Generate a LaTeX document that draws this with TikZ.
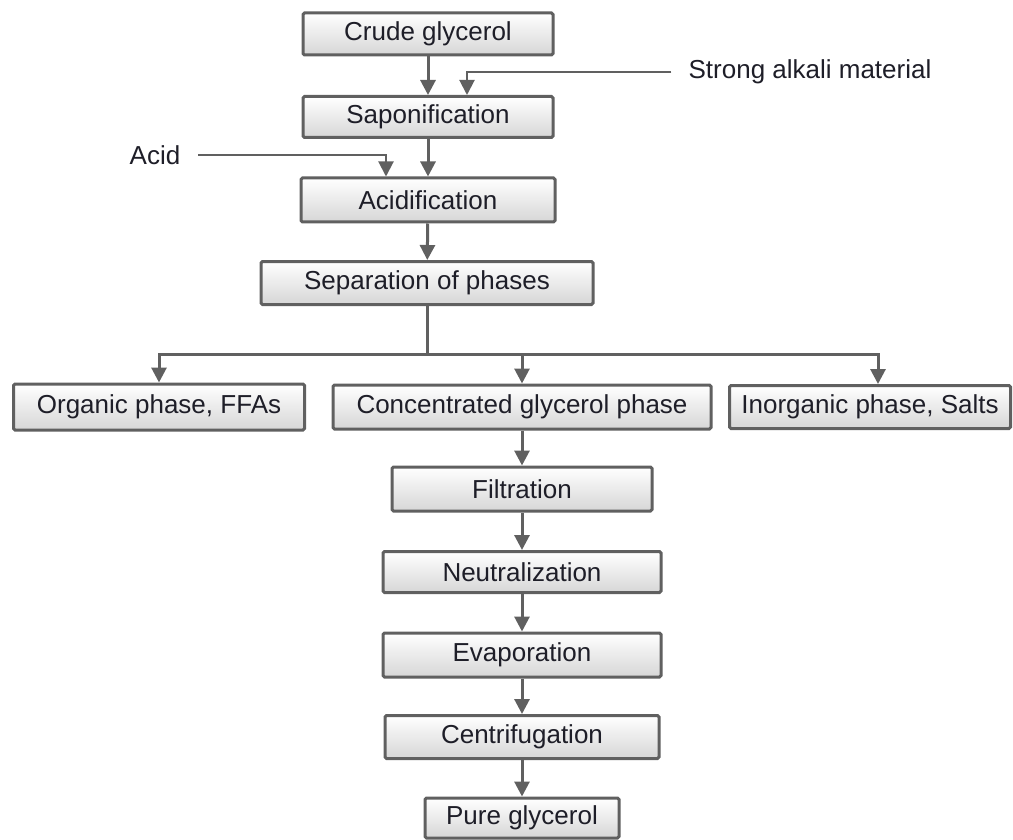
\documentclass[tikz,border=0pt]{standalone}
\usepackage{fontspec}
\setmainfont{Liberation Sans}
\usetikzlibrary{arrows.meta,calc}
\definecolor{edge}{HTML}{606060}
\definecolor{txt}{HTML}{1E1E28}
\begin{document}
\begin{tikzpicture}[x=1pt,y=-1pt,
  box/.style={draw=edge,line width=3pt,rounded corners=1.5pt,top color=white,bottom color=black!16,
    inner sep=0pt,font=\fontsize{26}{30}\selectfont,text=txt},
  lbl/.style={inner sep=0pt,font=\fontsize{26}{30}\selectfont,text=txt},
  arr/.style={draw=edge,line width=3pt,-{Triangle[width=15pt,length=15pt]}},
  ln/.style={draw=edge,line width=3pt},
  thin/.style={draw=edge,line width=2pt}]
\useasboundingbox (0,0) rectangle (1013,840);
\node[box,minimum width=250pt,minimum height=42pt] (crude) at (428,34) {Crude glycerol};
\node[box,minimum width=250pt,minimum height=41pt] (sapon) at (428,117) {Saponification};
\node[box,minimum width=254pt,minimum height=44pt] (acidf) at (428,200) {Acidification};
\node[box,minimum width=332pt,minimum height=43pt] (sep) at (427,283) {Separation of phases};
\node[box,minimum width=291pt,minimum height=46pt] (org) at (159,407) {Organic phase, FFAs};
\node[box,minimum width=378pt,minimum height=44pt] (conc) at (522,407) {Concentrated glycerol phase};
\node[box,minimum width=281pt,minimum height=43pt] (inorg) at (870,407) {Inorganic phase, Salts};
\node[box,minimum width=260pt,minimum height=44pt] (filt) at (522,489) {Filtration};
\node[box,minimum width=278pt,minimum height=41pt] (neut) at (522,572) {Neutralization};
\node[box,minimum width=278pt,minimum height=44pt] (evap) at (522,655) {Evaporation};
\node[box,minimum width=274pt,minimum height=43pt] (centr) at (522,737) {Centrifugation};
\node[box,minimum width=194pt,minimum height=40pt] (pure) at (522,818) {Pure glycerol};
\node[lbl] (alkali) at (810,72) {Strong alkali material};
\node[lbl] (acidl) at (155,155) {Acid};
\path (sep.south) ++(0,48.5) coordinate (br);
\coordinate (alkin) at ($(sapon.north)+(39,0)$);
\coordinate (acidin) at ($(acidf.north)+(-42,0)$);
\coordinate (inin) at ($(inorg.north)+(8,0)$);
\draw[arr] (crude) -- (sapon);
\draw[thin,-{Triangle[width=15pt,length=15pt]}] ([xshift=-17pt]alkali.west) -| (alkin);
\draw[arr] (sapon) -- (acidf);
\draw[thin,-{Triangle[width=15pt,length=15pt]}] ([xshift=18pt]acidl.east) -| (acidin);
\draw[arr] (acidf) -- (sep);
\draw[ln] (sep.south) -- (br);
\draw[arr] (br) -| (org.north);
\draw[arr] (br) -| (conc.north);
\draw[arr] (br) -| (inin);
\draw[arr] (conc) -- (filt);
\draw[arr] (filt) -- (neut);
\draw[arr] (neut) -- (evap);
\draw[arr] (evap) -- (centr);
\draw[arr] (centr) -- (pure);
\end{tikzpicture}
\end{document}
